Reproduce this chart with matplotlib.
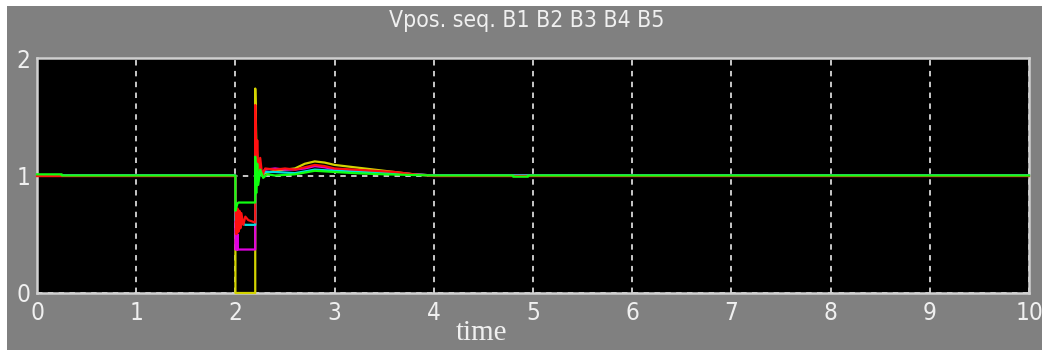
import matplotlib
matplotlib.use('Agg')
import matplotlib.pyplot as plt
from matplotlib.patches import Rectangle

# Positive sequence voltage (pu) at buses B1..B5 around the fault at t = 2 s
t_b1 = [0, 2.0, 2.0, 2.2, 2.2, 2.21, 2.23, 2.26, 2.3, 2.4, 2.5, 2.6, 2.7, 2.8, 2.9, 3.0, 3.2, 3.4, 3.6, 3.8, 4.0, 10]
v_b1 = [1.0, 1.0, 0.0, 0.0, 1.74, 1.3, 1.05, 1.0, 1.02, 1.04, 1.05, 1.06, 1.1, 1.12, 1.11, 1.09, 1.07, 1.05, 1.03, 1.01, 1.0, 1.0]

t_b2 = [0, 2.0, 2.0, 2.02, 2.02, 2.02, 2.2, 2.2, 2.21, 2.23, 2.26, 2.3, 2.4, 2.5, 2.6, 2.7, 2.8, 2.9, 3.0, 3.2, 3.5, 3.8, 4.0, 10]
v_b2 = [1.0, 1.0, 0.37, 0.37, 0.5, 0.37, 0.37, 1.3, 0.95, 1.12, 1.02, 1.05, 1.06, 1.05, 1.05, 1.06, 1.08, 1.07, 1.05, 1.04, 1.03, 1.01, 1.0, 1.0]

t_b3 = [0, 2.0, 2.0, 2.05, 2.1, 2.2, 2.2, 2.21, 2.23, 2.26, 2.3, 2.4, 2.6, 2.8, 3.0, 3.3, 3.6, 4.0, 10]
v_b3 = [1.0, 1.0, 0.62, 0.6, 0.58, 0.58, 1.25, 0.92, 1.1, 1.0, 1.03, 1.03, 1.02, 1.05, 1.04, 1.03, 1.02, 1.0, 1.0]

t_b4 = [0, 2.0, 2.0, 2.01, 2.02, 2.03, 2.04, 2.05, 2.06, 2.08, 2.1, 2.13, 2.2, 2.2, 2.21, 2.22, 2.23, 2.25, 2.27, 2.3, 2.4,
        2.5, 2.6, 2.7, 2.8, 2.9, 3.0, 3.2, 3.4, 3.6, 3.8, 4.0, 10]
v_b4 = [0.995, 0.995, 0.75, 0.5, 0.72, 0.52, 0.7, 0.55, 0.68, 0.58, 0.65, 0.62, 0.6, 1.6, 0.9, 1.3, 0.95, 1.15, 1.0, 1.06, 1.05,
        1.06, 1.05, 1.07, 1.09, 1.08, 1.06, 1.05, 1.04, 1.03, 1.01, 0.995, 0.995]

t_b5 = [0, 0.25, 0.25, 2.0, 2.0, 2.02, 2.03, 2.2, 2.2, 2.21, 2.22, 2.23, 2.25, 2.28, 2.32, 2.4, 2.6, 2.8, 3.0, 3.2, 3.5,
        4.0, 4.8, 4.8, 4.95, 4.95, 10]
v_b5 = [1.01, 1.01, 1.0, 1.0, 0.7, 0.76, 0.77, 0.77, 1.16, 0.85, 1.1, 0.92, 1.05, 0.98, 1.01, 1.0, 1.01, 1.04, 1.03, 1.02, 1.01,
        1.0, 1.0, 0.99, 0.99, 1.0, 1.0]

series = [
    (t_b1, v_b1, '#d4d400'),
    (t_b2, v_b2, '#e000e0'),
    (t_b3, v_b3, '#00e0e0'),
    (t_b4, v_b4, '#ff1010'),
    (t_b5, v_b5, '#10ff10'),
]

x_ticks = list(range(0, 11))
y_ticks = [0, 1, 2]

W, H = 1042, 350
fig = plt.figure(figsize=(W / 100, H / 100), dpi=100)
fig.patch.set_facecolor('white')

# gray scope panel behind the axes
fig.patches.append(Rectangle((7 / W, 0), 1, (H - 6) / H, transform=fig.transFigure,
                             facecolor='#808080', edgecolor='none', zorder=-10))

ax = fig.add_axes([37 / W, (H - 293) / H, 992 / W, 235 / H])
ax.set_facecolor('black')

# traces drawn unclipped so the zero-voltage segment stays visible on the frame
for t, v, c in series:
    ax.plot(t, v, color=c, linewidth=1.6, zorder=3, clip_on=False)

ax.set_xlim(0, 10)
ax.set_ylim(0, 2)
ax.set_xticks(x_ticks)
ax.set_yticks(y_ticks)

lbl = dict(family='DejaVu Sans', stretch='condensed', color='#f0f0f0')
ax.set_xticklabels([str(x) for x in x_ticks], fontsize=17.5, **lbl)
ax.set_yticklabels([str(y) for y in y_ticks], fontsize=17.5, **lbl)
ax.tick_params(length=0)
ax.tick_params(axis='x', pad=6)
ax.tick_params(axis='y', pad=5)

ax.grid(True, color='#d8d8d8', linestyle=(0, (3, 3)), linewidth=1.3, zorder=1)

for s in ax.spines.values():
    s.set_color('#d0d0d0')
    s.set_linewidth(1.8)
    s.set_zorder(2)

fig.text(527 / W, (H - 20) / H, 'Vpos. seq. B1 B2 B3 B4 B5', ha='center', va='center',
         fontsize=16.5, **lbl)
fig.text(482 / W, (H - 333) / H, 'time', ha='center', va='center',
         family='Liberation Serif', fontsize=21, color='#f0f0f0')

fig.savefig('out.png', dpi=100, facecolor=fig.get_facecolor())
